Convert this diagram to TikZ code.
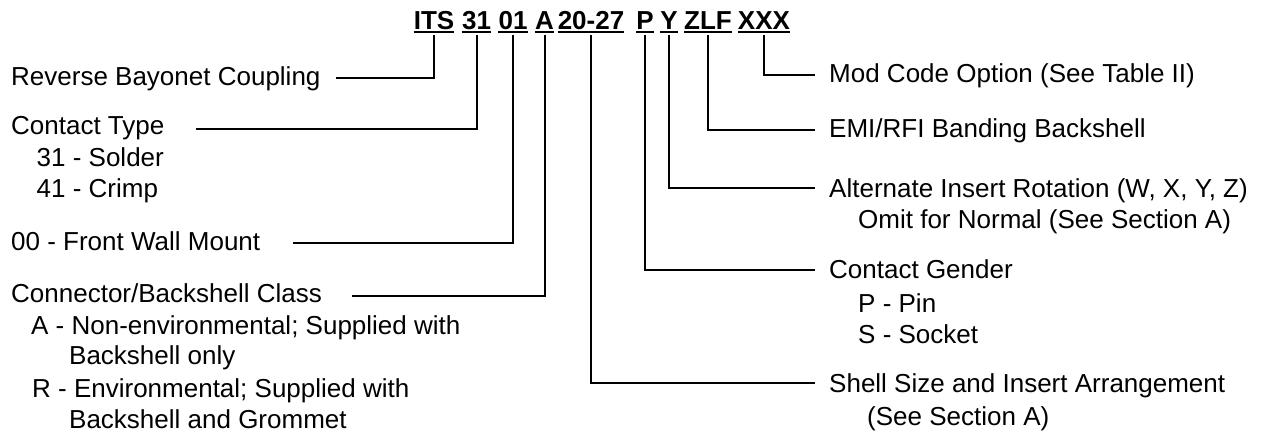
\documentclass[tikz,border=0pt]{standalone}
\usepackage{fontspec}
\setmainfont{Liberation Sans}
\begin{document}
\begin{tikzpicture}[x=1pt,y=1pt,
  lbl/.style={anchor=base west, inner sep=0pt, font=\fontsize{26}{31}\selectfont},
  code/.style={anchor=base, inner sep=0pt, text depth=0pt, font=\fontsize{26}{31}\selectfont\bfseries},
  conn/.style={line width=2pt},
  uline/.style={line width=2pt}]
\fill[white] (0,0) rectangle (1261,-433);
\useasboundingbox (0,0) rectangle (1261,-433);
% code groups
\node[code] (cITS) at (434,-29.5) {ITS};
\node[code] (c31) at (476.5,-29.5) {31};
\node[code] (c01) at (513,-29.5) {01};
\node[code] (cA) at (544.5,-29.5) {A};
\node[code] (c2027) at (591,-29.5) {20-27};
\node[code] (cP) at (645,-29.5) {P};
\node[code] (cY) at (669,-29.5) {Y};
\node[code] (cZLF) at (708,-29.5) {ZLF};
\node[code] (cXXX) at (764,-29.5) {XXX};
\foreach \g in {cITS,c31,c01,cA,c2027,cP,cY,cZLF,cXXX}
  \draw[uline] ([yshift=-3pt]\g.base west) -- ([yshift=-3pt]\g.base east);
% left labels
\node[lbl] (tRev) at (11,-86) {Reverse Bayonet Coupling};
\node[lbl] (tCT) at (11,-135) {Contact Type};
\node[lbl] (tSol) at (36.5,-166) {31 - Solder};
\node[lbl] (tCri) at (36.5,-197) {41 - Crimp};
\node[lbl] (tFW) at (11,-250) {00 - Front Wall Mount};
\node[lbl] (tCB) at (11,-302) {Connector/Backshell Class};
\node[lbl] (tA) at (31,-334) {A - Non-environmental; Supplied with};
\node[lbl] (tA2) at (69,-364) {Backshell only};
\node[lbl] (tR) at (32,-397) {R - Environmental; Supplied with};
\node[lbl] (tR2) at (69,-428) {Backshell and Grommet};
% right labels
\node[lbl] (tMod) at (829,-83) {Mod Code Option (See Table II)};
\node[lbl] (tEMI) at (829,-138) {EMI/RFI Banding Backshell};
\node[lbl] (tAlt) at (829,-197) {Alternate Insert Rotation (W, X, Y, Z)};
\node[lbl] (tOmit) at (858,-228) {Omit for Normal (See Section A)};
\node[lbl] (tCG) at (829,-278) {Contact Gender};
\node[lbl] (tPin) at (858,-312) {P - Pin};
\node[lbl] (tSock) at (858,-343) {S - Socket};
\node[lbl] (tShell) at (829,-392) {Shell Size and Insert Arrangement};
\node[lbl] (tSee) at (867,-425) {(See Section A)};
% connector ends
\coordinate (eRev) at (336,-77.7);
\coordinate (eCT) at (196,-129);
\coordinate (eFW) at (293,-243);
\coordinate (eCB) at (352,-296);
\coordinate (eMod) at (815,-75);
\coordinate (eEMI) at (815,-130);
\coordinate (eAlt) at (815,-188);
\coordinate (eCG) at (815,-270);
\coordinate (eShell) at (815,-383);
% connectors
\draw[conn] ([yshift=-5.5pt]cITS.base) |- (eRev);
\draw[conn] ([yshift=-5.5pt]c31.base) |- (eCT);
\draw[conn] ([yshift=-5.5pt]c01.base) |- (eFW);
\draw[conn] ([yshift=-5.5pt]cA.base) |- (eCB);
\draw[conn] ([yshift=-5.5pt]cXXX.base) |- (eMod);
\draw[conn] ([yshift=-5.5pt]cZLF.base) |- (eEMI);
\draw[conn] ([yshift=-5.5pt]cY.base) |- (eAlt);
\draw[conn] ([yshift=-5.5pt]cP.base) |- (eCG);
\draw[conn] ([yshift=-5.5pt]c2027.base) |- (eShell);
\end{tikzpicture}
\end{document}
